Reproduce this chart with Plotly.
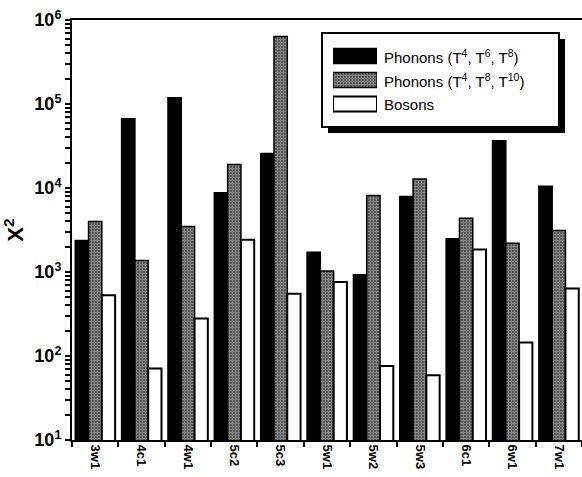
import plotly.graph_objects as go

# Sample labels and fit quality (chi-square) for three models
categories = ["3w1", "4c1", "4w1", "5c2", "5c3", "5w1", "5w2", "5w3", "6c1", "6w1", "7w1"]
series_names = [
    "Phonons (T<sup>4</sup>, T<sup>6</sup>, T<sup>8</sup>)",
    "Phonons (T<sup>4</sup>, T<sup>8</sup>, T<sup>10</sup>)",
    "Bosons",
]
phonons_4_6_8 = [2370, 66700, 119000, 8750, 25800, 1720, 930, 7900, 2490, 36600, 10500]
phonons_4_8_10 = [4000, 1370, 3480, 19000, 634000, 1030, 8130, 12800, 4370, 2200, 3120]
bosons = [527, 71, 279, 2420, 552, 759, 76, 59, 1850, 145, 634]

y_decades = [1, 2, 3, 4, 5, 6]

W, H = 582, 477
ML, MR, MT, MB = 72, 0, 20, 37
PW, PH = W - ML - MR, H - MT - MB

FONT = "Liberation Sans, Arial, Helvetica, sans-serif"

black_style = dict(color="black", line=dict(color="black", width=1.5))
dotted_style = dict(
    color="black",
    line=dict(color="black", width=1.5),
    pattern=dict(shape=".", bgcolor="black", fgcolor="white", size=3, solidity=0.8),
)
white_style = dict(color="white", line=dict(color="black", width=2))
styles = [black_style, dotted_style, white_style]
values = [phonons_4_6_8, phonons_4_8_10, bosons]

fig = go.Figure()
for name, vals, st in zip(series_names, values, styles):
    fig.add_trace(go.Bar(x=categories, y=vals, name=name, marker=st, showlegend=False))

# Key swatches: one horizontal bar per series on a small inset axis
for name, st in zip(series_names, styles):
    fig.add_trace(go.Bar(
        x=[1], y=[name], orientation="h", width=0.63, marker=st,
        xaxis="x2", yaxis="y2", showlegend=False, hoverinfo="skip",
    ))


def px_x(p):
    return (p - ML) / PW


def px_y(p):
    return (MT + PH - p) / PH


# Key frame with drop shadow
fig.add_shape(type="rect", xref="paper", yref="paper", layer="below",
              x0=px_x(328), x1=px_x(565), y0=px_y(133), y1=px_y(39),
              fillcolor="black", line=dict(width=0))
fig.add_shape(type="rect", xref="paper", yref="paper", layer="below",
              x0=px_x(322), x1=px_x(559), y0=px_y(127), y1=px_y(33),
              fillcolor="white", line=dict(color="black", width=2))

for name in series_names:
    fig.add_annotation(x=1, y=name, xref="x2", yref="y2", text=name,
                       showarrow=False, xanchor="left", xshift=5,
                       font=dict(family=FONT, size=15, color="black"))

# Decade labels plus unlabelled ticks at 2..9 within each decade
tick_vals, tick_text = [], []
for d in y_decades:
    tick_vals.append(10 ** d)
    tick_text.append("10<sup>%d</sup>" % d)
    if d < y_decades[-1]:
        for k in range(2, 10):
            tick_vals.append(k * 10 ** d)
            tick_text.append("")

fig.update_layout(
    width=W, height=H,
    margin=dict(l=ML, r=MR, t=MT, b=MB),
    paper_bgcolor="white", plot_bgcolor="white",
    barmode="group", bargap=0.14, bargroupgap=0,
    font=dict(family=FONT, color="black"),
    xaxis=dict(
        type="category", range=[-0.5, len(categories) - 0.5],
        showline=True, linecolor="black", linewidth=2,
        mirror=True, showgrid=False, zeroline=False,
        ticks="outside", tickson="boundaries", ticklen=5, tickwidth=2, tickcolor="black",
        tickangle=90, tickfont=dict(family=FONT, size=13, weight="bold"),
    ),
    yaxis=dict(
        type="log", range=[1, 6], showline=True, linecolor="black", linewidth=2,
        showgrid=False, zeroline=False,
        tickmode="array", tickvals=tick_vals, ticktext=tick_text,
        ticks="outside", ticklen=5, tickwidth=2, tickcolor="black",
        tickfont=dict(family=FONT, size=18, weight="bold"),
        title=dict(text="X<sup>2</sup>", standoff=6,
                   font=dict(family=FONT, size=22, weight="bold")),
    ),
    xaxis2=dict(domain=[px_x(333), px_x(377)], range=[0, 1], anchor="y2",
                visible=False, fixedrange=True),
    yaxis2=dict(domain=[px_y(116), px_y(44)], anchor="x2", type="category",
                autorange="reversed", visible=False, fixedrange=True),
)

fig.write_html("out.html")
